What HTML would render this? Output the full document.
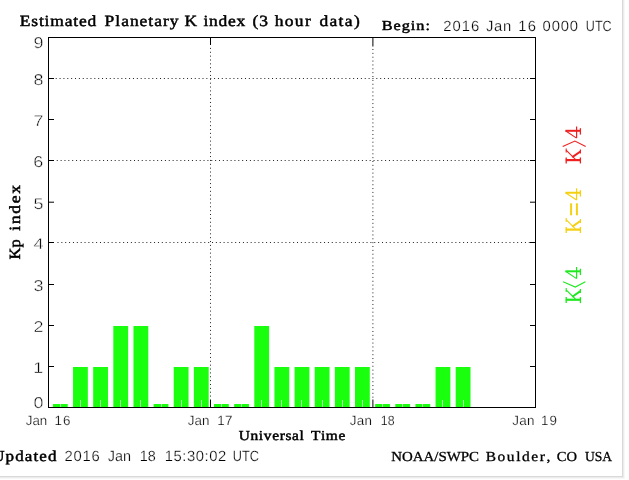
<!DOCTYPE html>
<html><head><meta charset="utf-8"><style>html,body{margin:0;padding:0;background:#fff;overflow:hidden}svg{display:block} text{text-rendering:geometricPrecision}</style></head>
<body><svg width="629" height="480" viewBox="0 0 629 480" style="will-change:transform">
<rect x="0" y="0" width="629" height="480" fill="#fff"/>
<rect x="624" y="0" width="1" height="479" fill="#f7f7f7"/><rect x="0" y="478" width="625" height="1" fill="#f7f7f7"/>
<rect x="623" y="0" width="1" height="478" fill="#ececec"/><rect x="0" y="477" width="624" height="1" fill="#ececec"/>
<rect x="622" y="0" width="1" height="477" fill="#d9d9d9"/><rect x="0" y="476" width="623" height="1" fill="#d9d9d9"/>
<rect x="52.90" y="404" width="14.8" height="3" fill="#1aff0e"/>
<rect x="60" y="404" width="1" height="3" fill="#a8ffa8"/>
<rect x="73.04" y="367" width="14.8" height="40" fill="#1aff0e"/>
<rect x="80" y="400" width="1" height="7" fill="#a8ffa8"/>
<rect x="93.18" y="367" width="14.8" height="40" fill="#1aff0e"/>
<rect x="100" y="400" width="1" height="7" fill="#a8ffa8"/>
<rect x="113.32" y="326" width="14.8" height="81" fill="#1aff0e"/>
<rect x="120" y="400" width="1" height="7" fill="#a8ffa8"/>
<rect x="133.46" y="326" width="14.8" height="81" fill="#1aff0e"/>
<rect x="140" y="400" width="1" height="7" fill="#a8ffa8"/>
<rect x="153.60" y="404" width="14.8" height="3" fill="#1aff0e"/>
<rect x="161" y="404" width="1" height="3" fill="#a8ffa8"/>
<rect x="173.74" y="367" width="14.8" height="40" fill="#1aff0e"/>
<rect x="181" y="400" width="1" height="7" fill="#a8ffa8"/>
<rect x="193.88" y="367" width="14.8" height="40" fill="#1aff0e"/>
<rect x="201" y="400" width="1" height="7" fill="#a8ffa8"/>
<rect x="214.02" y="404" width="14.8" height="3" fill="#1aff0e"/>
<rect x="221" y="404" width="1" height="3" fill="#a8ffa8"/>
<rect x="234.16" y="404" width="14.8" height="3" fill="#1aff0e"/>
<rect x="241" y="404" width="1" height="3" fill="#a8ffa8"/>
<rect x="254.30" y="326" width="14.8" height="81" fill="#1aff0e"/>
<rect x="261" y="400" width="1" height="7" fill="#a8ffa8"/>
<rect x="274.44" y="367" width="14.8" height="40" fill="#1aff0e"/>
<rect x="281" y="400" width="1" height="7" fill="#a8ffa8"/>
<rect x="294.58" y="367" width="14.8" height="40" fill="#1aff0e"/>
<rect x="301" y="400" width="1" height="7" fill="#a8ffa8"/>
<rect x="314.72" y="367" width="14.8" height="40" fill="#1aff0e"/>
<rect x="322" y="400" width="1" height="7" fill="#a8ffa8"/>
<rect x="334.86" y="367" width="14.8" height="40" fill="#1aff0e"/>
<rect x="342" y="400" width="1" height="7" fill="#a8ffa8"/>
<rect x="355.00" y="367" width="14.8" height="40" fill="#1aff0e"/>
<rect x="362" y="400" width="1" height="7" fill="#a8ffa8"/>
<rect x="375.14" y="404" width="14.8" height="3" fill="#1aff0e"/>
<rect x="382" y="404" width="1" height="3" fill="#a8ffa8"/>
<rect x="395.28" y="404" width="14.8" height="3" fill="#1aff0e"/>
<rect x="402" y="404" width="1" height="3" fill="#a8ffa8"/>
<rect x="415.42" y="404" width="14.8" height="3" fill="#1aff0e"/>
<rect x="422" y="404" width="1" height="3" fill="#a8ffa8"/>
<rect x="435.56" y="367" width="14.8" height="40" fill="#1aff0e"/>
<rect x="442" y="400" width="1" height="7" fill="#a8ffa8"/>
<rect x="455.70" y="367" width="14.8" height="40" fill="#1aff0e"/>
<rect x="463" y="400" width="1" height="7" fill="#a8ffa8"/>
<line x1="55.70" y1="78.5" x2="527.99" y2="78.5" stroke="#222" stroke-width="1" stroke-dasharray="1 2.863"/>
<line x1="56.75" y1="160.5" x2="529.04" y2="160.5" stroke="#222" stroke-width="1" stroke-dasharray="1 2.863"/>
<line x1="57.50" y1="242.5" x2="529.79" y2="242.5" stroke="#222" stroke-width="1" stroke-dasharray="1 2.863"/>
<line x1="210.5" y1="47.90" x2="210.5" y2="396.57" stroke="#222" stroke-width="1" stroke-dasharray="1 2.863"/>
<line x1="210.5" y1="37" x2="210.5" y2="45" stroke="#000" stroke-width="1"/>
<line x1="210.5" y1="399.5" x2="210.5" y2="407" stroke="#000" stroke-width="1"/>
<line x1="372.9" y1="49.00" x2="372.9" y2="397.67" stroke="#222" stroke-width="1" stroke-dasharray="1 2.863"/>
<line x1="372.9" y1="37" x2="372.9" y2="46.5" stroke="#000" stroke-width="1"/>
<line x1="372.9" y1="399.5" x2="372.9" y2="407" stroke="#000" stroke-width="1"/>
<line x1="48" y1="366.5" x2="54" y2="366.5" stroke="#000" stroke-width="1"/>
<line x1="530" y1="366.5" x2="535" y2="366.5" stroke="#000" stroke-width="1"/>
<line x1="48" y1="325.5" x2="54" y2="325.5" stroke="#000" stroke-width="1"/>
<line x1="530" y1="325.5" x2="535" y2="325.5" stroke="#000" stroke-width="1"/>
<line x1="48" y1="284.5" x2="54" y2="284.5" stroke="#000" stroke-width="1"/>
<line x1="530" y1="284.5" x2="535" y2="284.5" stroke="#000" stroke-width="1"/>
<line x1="48" y1="242.5" x2="54" y2="242.5" stroke="#000" stroke-width="1"/>
<line x1="530" y1="242.5" x2="535" y2="242.5" stroke="#000" stroke-width="1"/>
<line x1="48" y1="202.2" x2="54" y2="202.2" stroke="#000" stroke-width="1"/>
<line x1="530" y1="202.2" x2="535" y2="202.2" stroke="#000" stroke-width="1"/>
<line x1="48" y1="160.5" x2="54" y2="160.5" stroke="#000" stroke-width="1"/>
<line x1="530" y1="160.5" x2="535" y2="160.5" stroke="#000" stroke-width="1"/>
<line x1="48" y1="119.5" x2="54" y2="119.5" stroke="#000" stroke-width="1"/>
<line x1="530" y1="119.5" x2="535" y2="119.5" stroke="#000" stroke-width="1"/>
<line x1="48" y1="78.5" x2="54" y2="78.5" stroke="#000" stroke-width="1"/>
<line x1="530" y1="78.5" x2="535" y2="78.5" stroke="#000" stroke-width="1"/>
<rect x="48.5" y="37.5" width="487" height="370" fill="none" stroke="#000" stroke-width="1"/>
<text transform="translate(20.30,0) scale(1.1200,1)" x="-0.45 9.81 16.61 21.68 26.74 39.61 47.26 52.33 59.98" y="25.8" font-family="Liberation Serif" font-weight="normal" font-size="15.6" fill="#000" stroke="#000" stroke-width="0.48">Estimated</text>
<text transform="translate(105.10,0) scale(1.1200,1)" x="-0.45 9.11 14.32 22.13 30.81 38.61 43.83 51.63 57.71" y="25.8" font-family="Liberation Serif" font-weight="normal" font-size="15.6" fill="#000" stroke="#000" stroke-width="0.48">Planetary</text>
<text transform="translate(186.10,0) scale(1.1200,1)" x="-1.54" y="25.8" font-family="Liberation Serif" font-weight="normal" font-size="15.6" fill="#000" stroke="#000" stroke-width="0.48">K</text>
<text transform="translate(203.90,0) scale(1.1200,1)" x="-0.33 4.67 13.13 21.59 29.18" y="25.8" font-family="Liberation Serif" font-weight="normal" font-size="15.6" fill="#000" stroke="#000" stroke-width="0.48">index</text>
<text transform="translate(253.30,0) scale(1.1200,1)" x="-0.69 5.22" y="25.8" font-family="Liberation Serif" font-weight="normal" font-size="15.6" fill="#000" stroke="#000" stroke-width="0.48">(3</text>
<text transform="translate(274.80,0) scale(1.1200,1)" x="-0.15 8.87 17.89 26.91" y="25.8" font-family="Liberation Serif" font-weight="normal" font-size="15.6" fill="#000" stroke="#000" stroke-width="0.48">hour</text>
<text transform="translate(320.00,0) scale(1.1200,1)" x="-0.56 8.46 16.61 22.16 30.31" y="25.8" font-family="Liberation Serif" font-weight="normal" font-size="15.6" fill="#000" stroke="#000" stroke-width="0.48">data)</text>
<text transform="translate(382.30,0) scale(1.1800,1)" x="-0.40 9.59 16.51 24.20 28.84 36.53" y="29.7" font-family="Liberation Serif" font-weight="normal" font-size="13.75" fill="#000" stroke="#000" stroke-width="0.48">Begin:</text>
<text transform="translate(444.00,0) scale(1.0000,1)" x="-0.74 8.51 17.76 27.02" y="30.5" font-family="Liberation Sans" font-weight="normal" font-size="14.8" fill="#000" stroke="#fff" stroke-width="0.25">2016</text>
<text transform="translate(486.10,0) scale(1.0000,1)" x="-0.23 7.93 16.93" y="30.5" font-family="Liberation Sans" font-weight="normal" font-size="14.8" fill="#000" stroke="#fff" stroke-width="0.25">Jan</text>
<text transform="translate(519.40,0) scale(1.0000,1)" x="-1.13 8.32" y="30.5" font-family="Liberation Sans" font-weight="normal" font-size="14.8" fill="#000" stroke="#fff" stroke-width="0.25">16</text>
<text transform="translate(543.20,0) scale(1.0000,1)" x="-0.58 8.50 17.57 26.65" y="30.5" font-family="Liberation Sans" font-weight="normal" font-size="14.8" fill="#000" stroke="#fff" stroke-width="0.25">0000</text>
<text transform="translate(586.80,0) scale(0.8498,1)" x="-1.14 9.55 18.59" y="30.5" font-family="Liberation Sans" font-weight="normal" font-size="14.8" fill="#000" stroke="#fff" stroke-width="0.25">UTC</text>
<text transform="translate(34.20,0) scale(1.1500,1)" x="-0.69" y="408.12" font-family="Liberation Sans" font-weight="normal" font-size="15.6" fill="#000" stroke="#fff" stroke-width="0.45">0</text>
<text transform="translate(34.20,0) scale(1.1500,1)" x="-0.90" y="372.82" font-family="Liberation Sans" font-weight="normal" font-size="15.6" fill="#000" stroke="#fff" stroke-width="0.45">1</text>
<text transform="translate(34.20,0) scale(1.1500,1)" x="-0.69" y="331.82" font-family="Liberation Sans" font-weight="normal" font-size="15.6" fill="#000" stroke="#fff" stroke-width="0.45">2</text>
<text transform="translate(34.20,0) scale(1.1500,1)" x="-0.64" y="290.82" font-family="Liberation Sans" font-weight="normal" font-size="15.6" fill="#000" stroke="#fff" stroke-width="0.45">3</text>
<text transform="translate(34.20,0) scale(1.1500,1)" x="-0.64" y="248.82" font-family="Liberation Sans" font-weight="normal" font-size="15.6" fill="#000" stroke="#fff" stroke-width="0.45">4</text>
<text transform="translate(34.20,0) scale(1.1500,1)" x="-0.67" y="208.52" font-family="Liberation Sans" font-weight="normal" font-size="15.6" fill="#000" stroke="#fff" stroke-width="0.45">5</text>
<text transform="translate(34.20,0) scale(1.1500,1)" x="-0.74" y="166.82" font-family="Liberation Sans" font-weight="normal" font-size="15.6" fill="#000" stroke="#fff" stroke-width="0.45">6</text>
<text transform="translate(34.20,0) scale(1.1500,1)" x="-0.69" y="125.82" font-family="Liberation Sans" font-weight="normal" font-size="15.6" fill="#000" stroke="#fff" stroke-width="0.45">7</text>
<text transform="translate(34.20,0) scale(1.1500,1)" x="-0.69" y="84.82" font-family="Liberation Sans" font-weight="normal" font-size="15.6" fill="#000" stroke="#fff" stroke-width="0.45">8</text>
<text transform="translate(34.20,0) scale(1.1500,1)" x="-0.68" y="47.57" font-family="Liberation Sans" font-weight="normal" font-size="15.6" fill="#000" stroke="#fff" stroke-width="0.45">9</text>
<text transform="translate(26.00,0) scale(0.9939,1)" x="-0.21 6.49 13.94" y="425.3" font-family="Liberation Sans" font-weight="normal" font-size="13.4" fill="#000" stroke="#fff" stroke-width="0.25">Jan</text>
<text transform="translate(55.50,0) scale(1.0000,1)" x="-1.02 7.54" y="425.3" font-family="Liberation Sans" font-weight="normal" font-size="13.4" fill="#000" stroke="#fff" stroke-width="0.25">16</text>
<text transform="translate(188.00,0) scale(1.0000,1)" x="-0.21 6.53 14.02" y="425.3" font-family="Liberation Sans" font-weight="normal" font-size="13.4" fill="#000" stroke="#fff" stroke-width="0.25">Jan</text>
<text transform="translate(218.20,0) scale(1.0000,1)" x="-1.02 6.72" y="425.3" font-family="Liberation Sans" font-weight="normal" font-size="13.4" fill="#000" stroke="#fff" stroke-width="0.25">17</text>
<text transform="translate(349.90,0) scale(1.0000,1)" x="-0.21 6.78 14.52" y="425.3" font-family="Liberation Sans" font-weight="normal" font-size="13.4" fill="#000" stroke="#fff" stroke-width="0.25">Jan</text>
<text transform="translate(381.70,0) scale(0.9247,1)" x="-1.02 6.43" y="425.3" font-family="Liberation Sans" font-weight="normal" font-size="13.4" fill="#000" stroke="#fff" stroke-width="0.25">18</text>
<text transform="translate(512.40,0) scale(1.0000,1)" x="-0.21 6.88 14.72" y="425.3" font-family="Liberation Sans" font-weight="normal" font-size="13.4" fill="#000" stroke="#fff" stroke-width="0.25">Jan</text>
<text transform="translate(542.10,0) scale(1.0000,1)" x="-1.02 7.48" y="425.3" font-family="Liberation Sans" font-weight="normal" font-size="13.4" fill="#000" stroke="#fff" stroke-width="0.25">19</text>
<text transform="translate(239.00,0) scale(1.1200,1)" x="-0.29 10.24 17.71 22.13 29.60 36.31 41.48 47.43 54.13" y="439.7" font-family="Liberation Serif" font-weight="normal" font-size="13.75" fill="#000" stroke="#000" stroke-width="0.48">Universal</text>
<text transform="translate(311.40,0) scale(1.1200,1)" x="-0.25 8.63 12.93 24.11" y="439.7" font-family="Liberation Serif" font-weight="normal" font-size="13.75" fill="#000" stroke="#000" stroke-width="0.48">Time</text>
<text transform="translate(-7.50,0) scale(1.1200,1)" x="-0.32 11.65 20.25 28.85 36.59 41.81 49.55" y="460.9" font-family="Liberation Serif" font-weight="normal" font-size="15.2" fill="#000" stroke="#000" stroke-width="0.48">Updated</text>
<text transform="translate(65.20,0) scale(1.0000,1)" x="-0.74 8.28 17.30 26.32" y="460.9" font-family="Liberation Sans" font-weight="normal" font-size="14.8" fill="#000" stroke="#fff" stroke-width="0.25">2016</text>
<text transform="translate(107.90,0) scale(0.9749,1)" x="-0.23 7.17 15.40" y="460.9" font-family="Liberation Sans" font-weight="normal" font-size="14.8" fill="#000" stroke="#fff" stroke-width="0.25">Jan</text>
<text transform="translate(140.80,0) scale(0.9733,1)" x="-1.13 7.10" y="460.9" font-family="Liberation Sans" font-weight="normal" font-size="14.8" fill="#000" stroke="#fff" stroke-width="0.25">18</text>
<text transform="translate(165.80,0) scale(1.0000,1)" x="-1.13 7.66 16.44 21.10 29.88 38.67 43.33 52.11" y="460.9" font-family="Liberation Sans" font-weight="normal" font-size="14.8" fill="#000" stroke="#fff" stroke-width="0.25">15:30:02</text>
<text transform="translate(233.80,0) scale(0.8603,1)" x="-1.14 9.55 18.59" y="460.9" font-family="Liberation Sans" font-weight="normal" font-size="14.8" fill="#000" stroke="#fff" stroke-width="0.25">UTC</text>
<text transform="translate(391.60,0) scale(1.0848,1)" x="-0.40 9.53 19.46 29.39 39.32 43.14 50.79 63.77 71.42" y="460.9" font-family="Liberation Serif" font-weight="normal" font-size="13.75" fill="#000" stroke="#000" stroke-width="0.3">NOAA/SWPC</text>
<text transform="translate(486.10,0) scale(1.1200,1)" x="-0.40 10.21 18.52 26.83 32.08 40.39 47.93 53.95" y="460.9" font-family="Liberation Serif" font-weight="normal" font-size="13.75" fill="#000" stroke="#000" stroke-width="0.3">Boulder,</text>
<text transform="translate(557.40,0) scale(1.0571,1)" x="-0.56 8.61" y="460.9" font-family="Liberation Serif" font-weight="normal" font-size="13.75" fill="#000" stroke="#000" stroke-width="0.3">CO</text>
<text transform="translate(585.20,0) scale(0.9846,1)" x="-0.29 9.64 17.29" y="460.9" font-family="Liberation Serif" font-weight="normal" font-size="13.75" fill="#000" stroke="#000" stroke-width="0.3">USA</text>
<g transform="translate(19.5,259) rotate(-90)"><text transform="translate(0.00,0) scale(1.0551,1)" x="-0.45 10.82" y="0" font-family="Liberation Serif" font-weight="normal" font-size="15.6" fill="#000" stroke="#000" stroke-width="0.48">Kp</text><text transform="translate(28.70,0) scale(1.1200,1)" x="-0.33 5.54 14.87 24.20 32.66" y="0" font-family="Liberation Serif" font-weight="normal" font-size="15.6" fill="#000" stroke="#000" stroke-width="0.48">index</text></g>
<line x1="580.90" y1="160.10" x2="565.80" y2="160.10" stroke="#ee2020" stroke-width="2.2" stroke-linecap="butt"/><line x1="580.40" y1="163.45" x2="580.40" y2="157.45" stroke="#ee2020" stroke-width="1.3" stroke-linecap="butt"/><line x1="566.20" y1="163.45" x2="566.20" y2="157.45" stroke="#ee2020" stroke-width="1.3" stroke-linecap="butt"/><line x1="575.40" y1="159.35" x2="566.10" y2="150.15" stroke="#ee2020" stroke-width="1.1" stroke-linecap="butt"/><line x1="566.20" y1="152.45" x2="566.20" y2="148.45" stroke="#ee2020" stroke-width="1.1" stroke-linecap="butt"/><line x1="572.30" y1="157.15" x2="580.40" y2="151.45" stroke="#ee2020" stroke-width="2.0" stroke-linecap="butt"/><line x1="580.40" y1="153.45" x2="580.40" y2="149.45" stroke="#ee2020" stroke-width="1.2" stroke-linecap="butt"/><polyline points="562.70,146.40 574.90,141.00 585.70,146.40" fill="none" stroke="#ee2020" stroke-width="1.1"/><line x1="580.70" y1="130.80" x2="565.50" y2="130.80" stroke="#ee2020" stroke-width="2.0" stroke-linecap="butt"/><line x1="580.40" y1="134.60" x2="580.40" y2="128.20" stroke="#ee2020" stroke-width="1.3" stroke-linecap="butt"/><line x1="576.60" y1="138.10" x2="576.60" y2="126.40" stroke="#ee2020" stroke-width="1.2" stroke-linecap="butt"/><line x1="565.50" y1="130.80" x2="576.60" y2="138.10" stroke="#ee2020" stroke-width="1.1" stroke-linecap="butt"/>
<line x1="580.90" y1="229.60" x2="565.80" y2="229.60" stroke="#f5d010" stroke-width="2.2" stroke-linecap="butt"/><line x1="580.40" y1="232.95" x2="580.40" y2="226.95" stroke="#f5d010" stroke-width="1.3" stroke-linecap="butt"/><line x1="566.20" y1="232.95" x2="566.20" y2="226.95" stroke="#f5d010" stroke-width="1.3" stroke-linecap="butt"/><line x1="575.40" y1="228.85" x2="566.10" y2="219.65" stroke="#f5d010" stroke-width="1.1" stroke-linecap="butt"/><line x1="566.20" y1="221.95" x2="566.20" y2="217.95" stroke="#f5d010" stroke-width="1.1" stroke-linecap="butt"/><line x1="572.30" y1="226.65" x2="580.40" y2="220.95" stroke="#f5d010" stroke-width="2.0" stroke-linecap="butt"/><line x1="580.40" y1="222.95" x2="580.40" y2="218.95" stroke="#f5d010" stroke-width="1.2" stroke-linecap="butt"/><line x1="571.10" y1="215.30" x2="571.10" y2="203.30" stroke="#f5d010" stroke-width="2.0" stroke-linecap="butt"/><line x1="576.90" y1="215.30" x2="576.90" y2="203.30" stroke="#f5d010" stroke-width="2.0" stroke-linecap="butt"/><line x1="580.70" y1="192.75" x2="565.50" y2="192.75" stroke="#f5d010" stroke-width="2.0" stroke-linecap="butt"/><line x1="580.40" y1="196.55" x2="580.40" y2="190.15" stroke="#f5d010" stroke-width="1.3" stroke-linecap="butt"/><line x1="576.60" y1="200.05" x2="576.60" y2="188.35" stroke="#f5d010" stroke-width="1.2" stroke-linecap="butt"/><line x1="565.50" y1="192.75" x2="576.60" y2="200.05" stroke="#f5d010" stroke-width="1.1" stroke-linecap="butt"/>
<line x1="580.90" y1="299.75" x2="565.80" y2="299.75" stroke="#20e820" stroke-width="2.2" stroke-linecap="butt"/><line x1="580.40" y1="303.10" x2="580.40" y2="297.10" stroke="#20e820" stroke-width="1.3" stroke-linecap="butt"/><line x1="566.20" y1="303.10" x2="566.20" y2="297.10" stroke="#20e820" stroke-width="1.3" stroke-linecap="butt"/><line x1="575.40" y1="299.00" x2="566.10" y2="289.80" stroke="#20e820" stroke-width="1.1" stroke-linecap="butt"/><line x1="566.20" y1="292.10" x2="566.20" y2="288.10" stroke="#20e820" stroke-width="1.1" stroke-linecap="butt"/><line x1="572.30" y1="296.80" x2="580.40" y2="291.10" stroke="#20e820" stroke-width="2.0" stroke-linecap="butt"/><line x1="580.40" y1="293.10" x2="580.40" y2="289.10" stroke="#20e820" stroke-width="1.2" stroke-linecap="butt"/><polyline points="563.10,281.80 575.30,287.10 585.40,281.80" fill="none" stroke="#20e820" stroke-width="1.1"/><line x1="580.70" y1="271.30" x2="565.50" y2="271.30" stroke="#20e820" stroke-width="2.0" stroke-linecap="butt"/><line x1="580.40" y1="275.10" x2="580.40" y2="268.70" stroke="#20e820" stroke-width="1.3" stroke-linecap="butt"/><line x1="576.60" y1="278.60" x2="576.60" y2="266.90" stroke="#20e820" stroke-width="1.2" stroke-linecap="butt"/><line x1="565.50" y1="271.30" x2="576.60" y2="278.60" stroke="#20e820" stroke-width="1.1" stroke-linecap="butt"/>
</svg></body></html>
